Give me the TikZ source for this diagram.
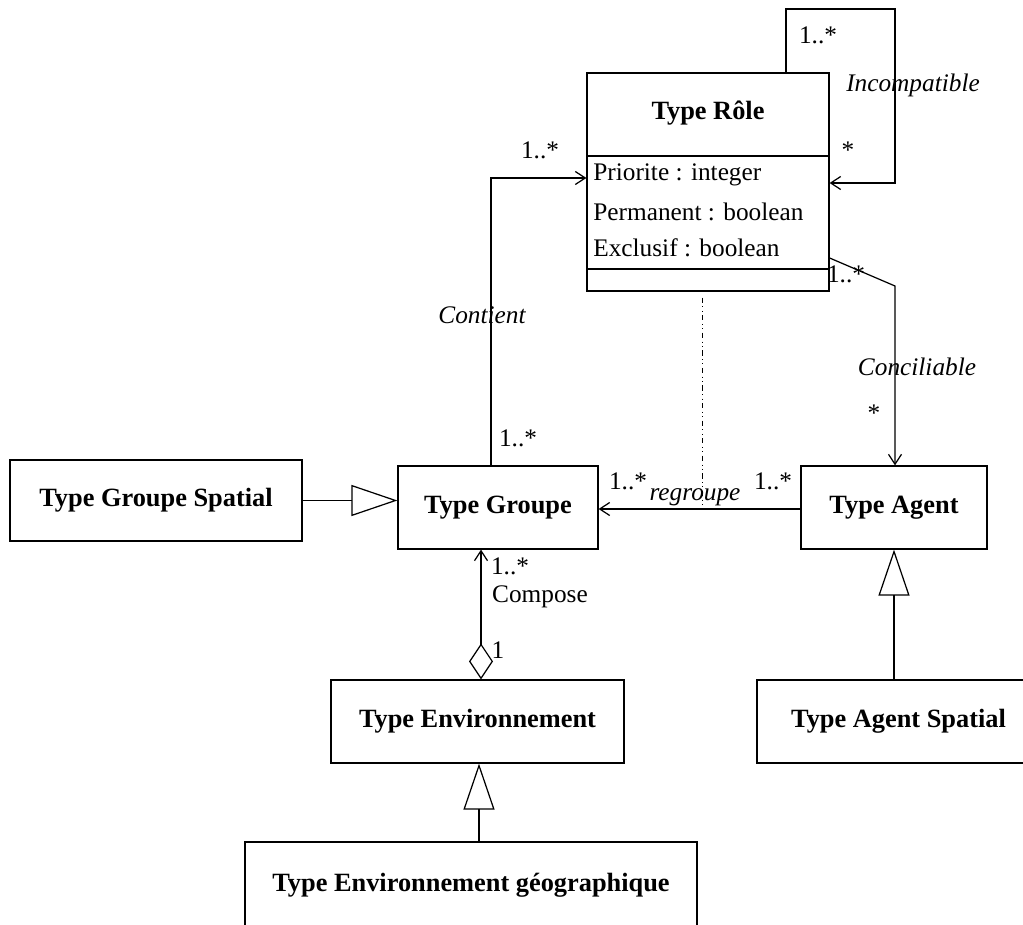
\documentclass[tikz,border=0pt]{standalone}
\usepackage{fontspec}
\setmainfont{Liberation Serif}
\usetikzlibrary{arrows.meta, positioning, calc}

\begin{document}
\begin{tikzpicture}[
  x=0.02cm, y=-0.02cm,
  every node/.style={font=\fontsize{14.4}{17}\selectfont, inner sep=0pt},
  classbox/.style={draw, line width=0.7pt, minimum height=1.66cm,
                   font=\fontsize{15}{18}\selectfont\bfseries},
  assoc/.style={line width=0.7pt, -{Straight Barb[length=2mm,width=2.6mm]}},
  inherit/.style={line width=0.7pt, -{Triangle[open,length=0.92cm,width=0.62cm]}},
  aggreg/.style={line width=0.7pt,
                 {Diamond[open,length=0.72cm,width=0.48cm]}-{Straight Barb[length=2mm,width=2.6mm]}},
  assocname/.style={font=\fontsize{14.4}{17}\selectfont\itshape},
]
\useasboundingbox (0,0) rectangle (1023,925);

% Classes
\node[classbox, minimum width=4.84cm, minimum height=4.36cm] (role) at (708,182) {};
\node[font=\fontsize{15}{18}\selectfont\bfseries] (roletitle) at (708,113) {Type Rôle};
\draw[line width=0.7pt] (role.west |- 0,156) -- (role.east |- 0,156);
\draw[line width=0.7pt] (role.west |- 0,269) -- (role.east |- 0,269);
\node[anchor=west] (prio) at (593,175) {Priorite : integer};
\node[anchor=west] (perm) at (593,212) {Permanent : boolean};
\node[anchor=west] (excl) at (593,248) {Exclusif : boolean};

\node[classbox, minimum width=5.84cm, minimum height=1.62cm] (gspatial) at (156,500.5) {Type Groupe Spatial};
\node[classbox, minimum width=4.0cm] (groupe) at (498,507.5) {Type Groupe};
\node[classbox, minimum width=3.72cm] (agent) at (894,507.5) {Type Agent};
\node[classbox, minimum width=5.66cm] (aspatial) at (898.5,721.5) {Type Agent Spatial};
\node[classbox, minimum width=5.86cm] (env) at (477.5,721.5) {Type Environnement};
\node[classbox, minimum width=9.04cm, minimum height=1.72cm] (envgeo) at (471,885) {Type Environnement géographique};

% Incompatible (self association)
\draw[assoc] (role.north -| 786,0) |- (895,9) |- (role.east |- 0,183);
\node (mIncA) at (818,35) {1..*};
\node[assocname] (lIncomp) at (913,85) {Incompatible};
\node (mIncB) at (848,150) {*};

% Contient
\draw[assoc] (groupe.north -| 491,0) |- (role.west |- 0,178);
\node (mContA) at (540,150) {1..*};
\node[assocname] (lContient) at (482,315) {Contient};
\node (mContB) at (518,438) {1..*};

% Conciliable
\coordinate (bend) at (895,286);
\draw[assoc] (role.east |- 0,258) -- (bend) -- (bend |- agent.north);
\node (mConcA) at (846,274) {1..*};
\node[assocname] (lConcil) at (917,367) {Conciliable};
\node (mConcB) at (874,413) {*};

% regroupe
\draw[assoc] (agent.west |- 0,509) -- (groupe.east |- 0,509);
\coordinate (rg) at (702,509);
\draw[line width=0.5pt, dash dot dot] ($(role.south -| rg)+(0,6)$) -- (rg);
\node (mRegA) at (628,481) {1..*};
\node[assocname] (lRegroupe) at (695,497) {regroupe};
\node (mRegB) at (773,481) {1..*};

% Compose
\draw[aggreg] (env.north -| 481,0) -- (groupe.south -| 481,0);
\node (mCompA) at (510,566) {1..*};
\node (lCompose) at (540,597) {Compose};
\node (mCompB) at (498,650) {1};

% Generalisations
\draw[inherit] (gspatial.east) -- (groupe.west |- gspatial.east);
\draw[inherit] (aspatial.north -| agent.south) -- (agent.south);
\draw[inherit] (envgeo.north -| 479,0) -- (env.south -| 479,0);
\end{tikzpicture}
\end{document}
